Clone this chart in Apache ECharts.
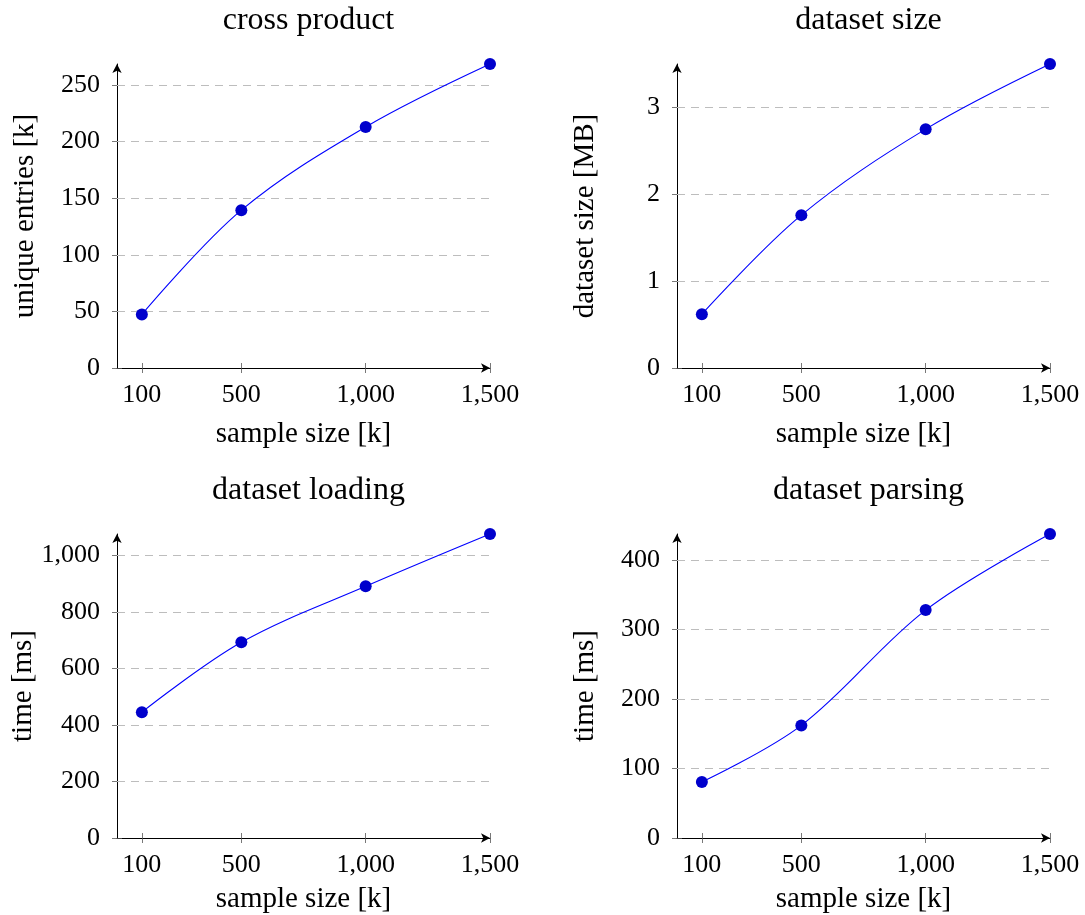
<!DOCTYPE html>
<html>
<head>
<meta charset="utf-8">
<script src="https://cdn.jsdelivr.net/npm/echarts@6/dist/echarts.min.js"></script>
<style>
  html, body { margin: 0; padding: 0; background: #fff; }
  #chart { width: 1085px; height: 915px; }
</style>
</head>
<body>
<div id="chart"></div>
<script>
// values
const sampleSizes = [100, 500, 1000, 1500]
const xTicks = [100, 500, 1000, 1500]

const crossProduct = [47.3, 139.4, 212.9, 268.5]
const datasetSize = [0.62, 1.76, 2.75, 3.5]
const datasetLoading = [445, 692, 890, 1075]
const datasetParsing = [80.5, 162, 328, 437.5]

const crossTicks = [0, 50, 100, 150, 200, 250]
const sizeTicks = [0, 1, 2, 3]
const loadingTicks = [0, 200, 400, 600, 800, 1000]
const parsingTicks = [0, 100, 200, 300, 400]

const panels = [
  { title: "cross product", yName: "unique entries [k]", values: crossProduct, ticks: crossTicks, left: 117, top: 64, xGap: 52 },
  { title: "dataset size", yName: "dataset size [MB]", values: datasetSize, ticks: sizeTicks, left: 677, top: 64, xGap: 52 },
  { title: "dataset loading", yName: "time [ms]", values: datasetLoading, ticks: loadingTicks, left: 117, top: 534, xGap: 47 },
  { title: "dataset parsing", yName: "time [ms]", values: datasetParsing, ticks: parsingTicks, left: 677, top: 534, xGap: 47 },
]

const FONT = "Liberation Serif"
const gridW = 373
const gridH = 304

function fmt(v) {
  return Number(v).toLocaleString("en-US")
}

const chart = echarts.init(document.getElementById("chart"))

const option = {
  animation: false,
  textStyle: { fontFamily: FONT, color: "#000" },
  title: [],
  grid: [],
  xAxis: [],
  yAxis: [],
  series: [],
}

panels.forEach((p, i) => {
  const ymax = Math.max(...p.values)
  option.title.push({
    text: p.title,
    left: p.left + gridW / 2,
    top: p.top - 64,
    textAlign: "center",
    textStyle: { fontFamily: FONT, fontSize: 32, fontWeight: "normal", color: "#000" },
  })
  option.grid.push({ left: p.left, top: p.top, width: gridW, height: gridH, outerBoundsMode: "none", containLabel: false })

  // main x axis: line, arrow, labels, outer ticks
  option.xAxis.push({
    type: "value",
    gridIndex: i,
    min: 0,
    max: 1500,
    name: "sample size [k]",
    nameLocation: "middle",
    nameGap: p.xGap,
    nameTextStyle: { fontFamily: FONT, fontSize: 29, color: "#000" },
    axisLine: { show: true, symbol: ["none", "arrow"], symbolSize: [7, 9], lineStyle: { color: "#000", width: 1 } },
    axisTick: { show: true, length: 5, customValues: xTicks, lineStyle: { color: "#555", width: 0.8 } },
    axisLabel: { customValues: xTicks, formatter: fmt, fontFamily: FONT, fontSize: 26, color: "#000", margin: 14 },
    splitLine: { show: false },
  })
  // inner ticks so they cross the axis
  option.xAxis.push({
    type: "value",
    gridIndex: i,
    position: "bottom",
    min: 0,
    max: 1500,
    axisLine: { show: false },
    axisTick: { show: true, inside: true, length: 5, customValues: xTicks, lineStyle: { color: "#555", width: 0.8 } },
    axisLabel: { show: false },
    splitLine: { show: false },
  })

  option.yAxis.push({
    type: "value",
    gridIndex: i,
    min: 0,
    max: ymax,
    name: p.yName,
    nameLocation: "middle",
    nameGap: 77,
    nameTextStyle: { fontFamily: FONT, fontSize: 29, color: "#000" },
    axisLine: { show: true, symbol: ["none", "arrow"], symbolSize: [7, 9], lineStyle: { color: "#000", width: 1 } },
    axisTick: { show: true, length: 5, customValues: p.ticks, lineStyle: { color: "#555", width: 0.8 } },
    axisLabel: { customValues: p.ticks, formatter: fmt, fontFamily: FONT, fontSize: 26, color: "#000", margin: 17 },
    splitLine: { show: false },
  })
  option.yAxis.push({
    type: "value",
    gridIndex: i,
    position: "left",
    min: 0,
    max: ymax,
    axisLine: { show: false },
    axisTick: { show: true, inside: true, length: 5, customValues: p.ticks, lineStyle: { color: "#555", width: 0.8 } },
    axisLabel: { show: false },
    splitLine: { show: false },
  })

  option.series.push({
    type: "line",
    xAxisIndex: i * 2,
    yAxisIndex: i * 2,
    data: sampleSizes.map((x, k) => [x, p.values[k]]),
    smooth: 0.35,
    symbol: "circle",
    symbolSize: 12,
    lineStyle: { color: "#0000ff", width: 1.1 },
    itemStyle: { color: "#0000cc", borderWidth: 0 },
    z: 3,
    markLine: {
      silent: true,
      symbol: ["none", "none"],
      label: { show: false },
      lineStyle: { color: "#bdbdbd", type: [8, 6], width: 1 },
      data: p.ticks.filter((v) => v > 0).map((v) => ({ yAxis: v })),
      z: 1,
    },
  })
})

chart.setOption(option)
</script>
</body>
</html>
